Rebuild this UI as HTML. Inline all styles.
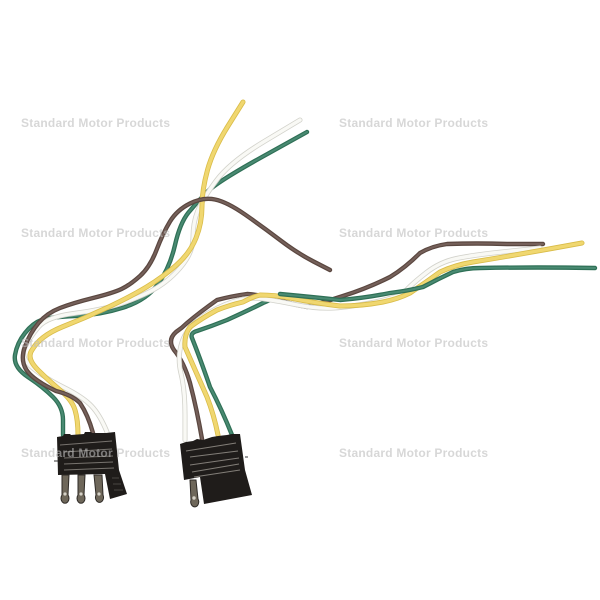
<!DOCTYPE html>
<html><head><meta charset="utf-8"><style>
html,body{margin:0;padding:0;background:#fff}
svg{display:block}
.w{fill:none;stroke-linecap:round;stroke-linejoin:round;filter:url(#s)}
.g{stroke:#2f6f56;stroke-width:4.4}.gi{stroke:#4a8a72;stroke-width:2}
.y{stroke:#d9bc48;stroke-width:5}.yi{stroke:#f0d76f;stroke-width:3.4}
.h{stroke:#d2d2cb;stroke-width:5}.hi{stroke:#f9f9f5;stroke-width:3.4}
.b{stroke:#5a463f;stroke-width:4.4}.bi{stroke:#75615a;stroke-width:2}
text{font-family:"Liberation Sans",sans-serif;font-weight:bold;font-size:12px;fill:#bdbdbd;opacity:.6}
</style></head><body>
<svg width="600" height="600" viewBox="0 0 600 600" xmlns="http://www.w3.org/2000/svg">
<rect width="600" height="600" fill="#fff"/>
<defs>
<filter id="s" x="-5%" y="-5%" width="110%" height="110%"><feGaussianBlur stdDeviation="0.35"/></filter>
<path id="lg" d="M63,435 L63,420 Q63,407 53,397 Q43,387 28,377 Q13,367 15,355 Q17,343 25,333 Q33,323 41.5,320 Q50,317 75,316 Q100,315 123.5,307.5 Q147,300 158.5,283.5 Q170,267 175,245 Q180,223 188.5,212.5 Q197,202 207,192 Q217,182 262,157 L307,132"/>
<path id="lh" d="M107,432 Q100,415 91.5,406 Q83,397 63,387 Q43,377 31.5,367 Q20,357 25,347 Q30,337 38.5,327 Q47,317 73.5,313.5 Q100,310 116.5,305 Q133,300 150,291.5 Q167,283 180,268 Q193,253 193,238 Q193,223 197.5,211.5 Q202,200 216,181 Q230,162 265,141 L300,120"/>
<path id="ly" d="M78,435 Q78,420 75,410 Q72,400 60,390 Q48,380 38,370 Q26,358 32,350 Q40,336 62,327 Q85,318 107.5,307.5 Q130,297 146.5,287 Q163,277 176.5,265 Q190,253 196,238 Q202,223 202,206 Q202,190 207.5,170 Q213,150 228,126 L243,102"/>
<path id="lb" d="M93,433 Q88,415 80,403 Q72,395 56,391 Q33,380 26.5,370 Q20,360 25,346.5 Q30,333 38.5,323 Q47,313 60,308 Q73,303 93,298 Q113,293 121.5,289 Q130,285 140,276 Q150,267 156.5,250 Q163,233 170,221.5 Q177,210 190,203.5 Q203,197 215,199.5 Q227,202 245,214.5 Q263,227 280,240 Q297,253 313.5,261.5 L330,270"/>
<path id="rh" d="M185,440 L185,415 Q185,390 181,373.5 Q177,357 182,342 Q187,327 202,317 Q217,307 232,302 Q247,297 260,298.5 Q273,300 295,304.5 Q317,309 333.5,308 Q350,307 375,302 Q400,297 406.5,290 Q413,283 426.5,272.5 Q440,262 456.5,258.5 Q473,255 506.5,251.5 L540,248"/>
<path id="rb" d="M202,439 Q197,410 190,383 Q184,362 174,350 Q167,340 176,332 Q182,328 187,323 Q200,312 217,300 Q232,296 247,294 Q260,295 273,298 Q290,304 307,307 Q325,302 343,296 Q368,288 390,277 Q405,268 420,253 Q432,246 447,244 Q477,243 507,244 L543,244"/>
<path id="ry" d="M218,435 Q214,415 207,397 Q195,370 185,347 Q184,335 190,327 Q202,318 217,310 Q230,305 243,302 Q252,297 260,295 Q275,295 290,298 Q315,303 340,306 Q362,306 383,302 Q398,299 410,293 Q425,283 440,272 Q455,265 473,262 Q528,253 582,243"/>
<path id="rg" d="M232,435 Q222,410 210,387 Q200,358 192,338 Q190,333 197,331 Q212,326 227,320 Q247,311 263,303 L270,300"/>
<path id="rg2" d="M280,294 Q312,297 340,300 Q365,298 390,293 Q407,291 423,287 Q438,279 453,272 Q466,268 480,268 Q538,267 595,268"/>
</defs>

<!-- left harness -->
<g class="w">
<use href="#lg" class="g"/><use href="#lg" class="gi"/>
<use href="#lh" class="h"/><use href="#lh" class="hi"/>
<use href="#ly" class="y"/><use href="#ly" class="yi"/>
<use href="#lb" class="b"/><use href="#lb" class="bi"/>
</g>
<!-- right harness -->
<g class="w">
<use href="#rg" class="g"/><use href="#rg" class="gi"/>
<use href="#rb" class="b"/><use href="#rb" class="bi"/>
<use href="#rh" class="h"/><use href="#rh" class="hi"/>
<use href="#ry" class="y"/><use href="#ry" class="yi"/>
<use href="#rg2" class="g"/><use href="#rg2" class="gi"/>
</g>

<!-- left connector -->
<path d="M57,437 L63,436 L64,434 L70,434 L71,435 L84,434 L85,432 L91,432 L92,433 L105,433 L106,433 L115,432 L119,470 L127,494 L110,499 L105,474 L58,475 Z" fill="#1f1c1a"/>
<g stroke="#77736e" stroke-width="1" fill="none">
<path d="M60,445 L112,441"/><path d="M64,452 L112,449"/><path d="M64,458 L113,456"/><path d="M64,464 L113,462"/><path d="M64,470 L114,468"/>
</g>
<g stroke="#4a4642" stroke-width="1"><path d="M112,478 h7M113,484 h8M114,490 h9"/></g>
<path d="M54,461 h4" stroke="#333" stroke-width="1"/>
<!-- pins -->
<g fill="#6e675a" stroke="#2e2a26" stroke-width="1">
<path d="M62,475 h7 l-1,20 a4,5 0 1 1 -6,0 Z"/>
<path d="M78,475 h7 l-1,20 a4,5 0 1 1 -6,0 Z"/>
<path d="M94,475 h8 l1,20 a4,5 0 1 1 -7,0 Z"/>
</g>
<g fill="#d6d2c8"><circle cx="65" cy="494" r="1.6"/><circle cx="81" cy="494" r="1.6"/><circle cx="99" cy="494" r="1.6"/></g>

<!-- right connector -->
<path d="M190,480 h6 l2,19 a4,5 0 1 1 -7,1 Z" fill="#6e675a" stroke="#2e2a26" stroke-width="1"/>
<circle cx="194" cy="498" r="1.7" fill="#d6d2c8"/>
<path d="M180,444 L186,442 L193,441 L197,439 L203,440 L212,437 L218,436 L227,435 L232,434 L240,434 L245,470 L252,495 L204,504 L200,477 L184,480 Z" fill="#1f1c1a"/>
<g stroke="#827e78" stroke-width="1" fill="none">
<path d="M186,451 L236,443"/><path d="M190,457 L238,451"/><path d="M190,465 L239,458"/><path d="M192,472 L239,464"/><path d="M194,477 L240,470"/>
</g>
<path d="M245,457 h3" stroke="#333" stroke-width="1"/>

<!-- watermarks -->
<text x="21" y="127" textLength="149">Standard Motor Products</text>
<text x="339" y="127" textLength="149">Standard Motor Products</text>
<text x="21" y="237" textLength="149">Standard Motor Products</text>
<text x="339" y="237" textLength="149">Standard Motor Products</text>
<text x="21" y="347" textLength="149">Standard Motor Products</text>
<text x="339" y="347" textLength="149">Standard Motor Products</text>
<text x="21" y="457" textLength="149">Standard Motor Products</text>
<text x="339" y="457" textLength="149">Standard Motor Products</text>
</svg>
</body></html>
